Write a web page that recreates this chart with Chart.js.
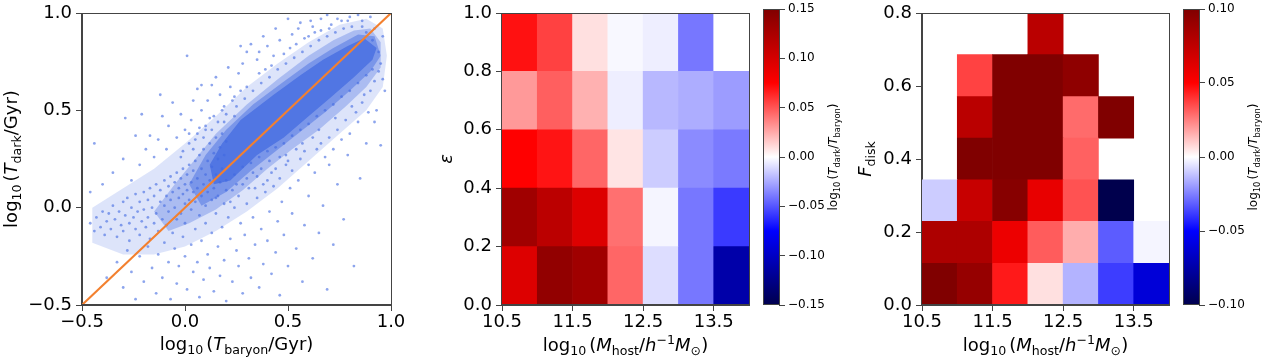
<!DOCTYPE html>
<html><head><meta charset="utf-8">
<script src="https://cdn.jsdelivr.net/npm/chart.js@4/dist/chart.umd.min.js"></script>
<style>
html,body{margin:0;padding:0;background:#fff;}
#wrap{position:relative;width:1262px;height:360px;overflow:hidden;background:#fff;}
canvas{position:absolute;top:0;}
</style></head><body>
<div id="wrap">
<canvas id="c1" width="410" height="360" style="left:0px"></canvas>
<canvas id="c2" width="340" height="360" style="left:420px"></canvas>
<canvas id="c3" width="100" height="360" style="left:760px"></canvas>
<canvas id="c4" width="340" height="360" style="left:840px"></canvas>
<canvas id="c5" width="82" height="360" style="left:1180px"></canvas>
</div>
<script>
// ---------------- Panel 1 data: log10 T_baryon vs log10 T_dark ----------------
const tRange = [-0.5, 1.0];
const tTicks = [-0.5, 0.0, 0.5, 1.0];
const oneToOne = [-0.5, 1.0];
// density outlines of the point cloud (tBaryon, tDark)
const cloudOuter = [[-0.45,-0.18],[-0.45,0.0],[-0.30,0.10],[-0.15,0.20],[0.0,0.33],[0.15,0.47],[0.30,0.62],[0.45,0.74],[0.60,0.85],[0.75,0.94],[0.88,0.97],[0.96,0.92],[0.98,0.78],[0.96,0.62],[0.88,0.50],[0.75,0.38],[0.60,0.24],[0.45,0.10],[0.30,-0.02],[0.15,-0.12],[0.0,-0.20],[-0.15,-0.24],[-0.30,-0.24],[-0.45,-0.18]];
const cloudMid = [[-0.15,-0.02],[-0.05,0.12],[0.05,0.25],[0.15,0.38],[0.30,0.53],[0.45,0.66],[0.60,0.78],[0.72,0.86],[0.82,0.91],[0.90,0.92],[0.95,0.85],[0.95,0.72],[0.88,0.62],[0.78,0.52],[0.65,0.40],[0.52,0.30],[0.40,0.20],[0.28,0.09],[0.15,-0.01],[0.02,-0.08],[-0.08,-0.12],[-0.15,-0.02]];
const cloudInner = [[0.02,0.12],[0.10,0.27],[0.20,0.40],[0.33,0.53],[0.47,0.64],[0.60,0.74],[0.72,0.82],[0.84,0.89],[0.92,0.88],[0.95,0.78],[0.90,0.70],[0.80,0.60],[0.68,0.49],[0.56,0.39],[0.44,0.29],[0.32,0.19],[0.20,0.08],[0.08,0.01],[0.02,0.12]];
const cloudCore = [[0.12,0.22],[0.18,0.33],[0.27,0.45],[0.43,0.58],[0.56,0.68],[0.67,0.76],[0.79,0.83],[0.87,0.87],[0.93,0.82],[0.91,0.76],[0.82,0.67],[0.70,0.56],[0.59,0.46],[0.48,0.36],[0.35,0.27],[0.22,0.14],[0.14,0.12],[0.12,0.22]];
// individual points (tBaryon, tDark)
const scatterPoints = [
[-0.46,-0.08],[-0.44,-0.12],[-0.43,-0.05],[-0.41,-0.10],[-0.40,-0.02],[-0.39,-0.14],[-0.38,-0.07],[-0.37,-0.03],[-0.36,-0.11],[-0.35,0.01],[-0.34,-0.06],[-0.33,-0.15],[-0.32,-0.02],[-0.31,-0.09],[-0.30,0.03],[-0.30,-0.12],[-0.29,-0.04],[-0.28,0.05],[-0.27,-0.08],[-0.27,-0.17],[-0.26,0.00],[-0.25,-0.05],[-0.24,0.07],[-0.24,-0.11],[-0.23,-0.02],[-0.22,0.03],[-0.22,-0.14],[-0.21,-0.07],[-0.20,0.08],[-0.20,-0.01],[-0.19,-0.10],[-0.18,0.04],[-0.18,-0.05],[-0.17,0.10],[-0.17,-0.16],[-0.16,0.00],[-0.15,-0.08],[-0.15,0.06],[-0.14,0.12],[-0.14,-0.03],[-0.13,-0.12],[-0.12,0.03],[-0.12,0.09],[-0.11,-0.06],[-0.10,0.14],[-0.10,0.01],[-0.09,-0.09],[-0.09,0.06],[-0.08,0.11],[-0.08,-0.02],[-0.07,0.16],[-0.07,0.04],[-0.06,-0.13],[-0.06,0.08],[-0.05,0.00],[-0.05,0.13],[-0.04,-0.06],[-0.04,0.18],[-0.03,0.05],[-0.03,0.10],[-0.02,-0.03],[-0.02,0.15],[-0.01,0.07],[-0.01,0.20],[0.00,0.02],[0.00,0.12],[0.00,-0.08],[0.01,0.17],[0.01,0.09],[0.02,0.04],[0.02,0.22],[0.03,0.13],[0.03,-0.01],[0.04,0.08],[0.04,0.19],[0.05,0.24],[0.05,0.03],[0.06,0.15],[0.06,0.10],[0.07,0.27],[0.07,-0.04],[0.08,0.06],[0.08,0.20],[0.09,0.12],[0.09,0.30],[0.10,0.01],[0.10,0.17],[0.11,0.24],[0.11,0.08],[0.12,0.33],[0.12,0.14],[0.13,0.04],[0.13,0.21],[0.14,0.28],[0.14,0.10],[0.15,0.36],[0.15,0.17],[0.16,0.06],[0.16,0.25],[0.17,0.31],[0.17,0.13],[0.18,0.38],[0.18,0.20],[0.19,0.02],[0.19,0.27],[0.20,0.34],[0.20,0.09],
[-0.44,0.33],[-0.29,0.46],[-0.24,0.37],[-0.21,0.48],[-0.17,0.37],[-0.12,0.58],[-0.11,0.47],[-0.06,0.54],[-0.02,0.48],[0.01,0.78],[0.04,0.55],[0.06,0.61],[0.08,0.63],[0.13,0.63],[0.15,0.67],[0.21,0.72],[-0.35,0.18],[-0.40,0.12],[-0.46,0.08],[-0.30,0.25],[-0.26,0.14],[-0.22,0.22],[-0.19,0.30],[-0.15,0.26],[-0.13,0.35],[-0.09,0.30],[-0.08,0.42],[-0.04,0.36],[-0.01,0.29],[0.00,0.40],[0.02,0.33],[0.03,0.45],[0.06,0.38],[0.08,0.50],[0.10,0.42],[0.11,0.55],[0.14,0.47],[0.17,0.58],[0.19,0.52],[0.22,0.62],[0.24,0.57],[0.26,0.69],[0.28,0.74],[0.30,0.80],[0.32,0.84],[0.27,0.83],[0.35,0.76],[0.38,0.88],[0.44,0.92],[0.50,0.97],[0.56,0.95],[0.61,0.96],[0.69,0.99],[0.74,0.97],[0.84,0.99],[0.90,0.98],
[-0.38,-0.36],[-0.33,-0.28],[-0.30,-0.41],[-0.28,-0.22],[-0.26,-0.33],[-0.24,-0.47],[-0.22,-0.25],[-0.20,-0.38],[-0.18,-0.20],[-0.16,-0.31],[-0.14,-0.44],[-0.13,-0.24],[-0.11,-0.36],[-0.10,-0.18],[-0.08,-0.28],[-0.07,-0.47],[-0.05,-0.21],[-0.04,-0.39],[-0.03,-0.30],[-0.01,-0.15],[0.00,-0.25],[0.01,-0.42],[0.03,-0.19],[0.04,-0.33],[0.05,-0.11],[0.06,-0.28],[0.07,-0.46],[0.08,-0.17],[0.09,-0.37],[0.10,-0.08],[0.11,-0.24],[0.12,-0.31],[0.13,-0.13],[0.14,-0.43],[0.15,-0.03],[0.16,-0.20],[0.17,-0.35],[0.18,-0.10],[0.19,-0.27],[0.20,-0.48],[0.21,-0.05],[0.22,-0.16],[0.23,-0.38],[0.24,0.00],[0.25,-0.22],[0.26,-0.30],[0.27,-0.08],[0.28,-0.44],[0.29,-0.14],[0.30,0.02],[0.31,-0.26],[0.32,-0.36],[0.33,-0.05],[0.34,-0.19],[0.35,0.05],[0.36,-0.41],[0.37,-0.11],[0.38,-0.29],[0.39,0.08],[0.40,-0.17],[0.41,-0.02],[0.42,-0.34],[0.43,0.11],[0.44,-0.23],[0.45,-0.07],[0.46,-0.45],[0.47,0.03],[0.48,-0.14],[0.50,-0.30],[0.51,0.10],[0.52,-0.03],[0.54,-0.21],[0.55,0.14],[0.57,-0.38],[0.58,-0.09],[0.60,0.06],[0.62,-0.26],[0.63,0.18],[0.65,-0.13],[0.67,0.01],[0.69,-0.42],[0.70,0.22],[0.72,-0.19],[0.74,0.12],[0.77,-0.06],[0.79,0.27],[0.82,-0.30],[0.85,0.15],[0.88,0.33],[0.92,0.44],[0.95,0.32],[0.97,0.60],[0.93,0.50],[0.89,0.49],[0.84,0.44],[0.80,0.38],[0.76,0.35],[0.72,0.30],[0.68,0.26],[0.64,0.30],[0.60,0.22],[0.56,0.25],[0.52,0.19],[0.49,0.22],[0.46,0.15],[0.42,0.18],[0.38,0.12],[0.35,0.16],[0.31,0.10],[0.28,0.12],[0.26,0.06],[0.23,0.09],
[0.05,0.35],[0.10,0.40],[0.16,0.44],[0.20,0.48],[0.25,0.52],[0.29,0.56],[0.33,0.60],[0.37,0.64],[0.41,0.67],[0.45,0.71],[0.49,0.74],[0.53,0.77],[0.57,0.80],[0.61,0.83],[0.65,0.86],[0.69,0.88],[0.73,0.90],[0.77,0.92],[0.81,0.93],[0.86,0.93],[0.30,0.62],[0.36,0.69],[0.42,0.73],[0.48,0.79],[0.54,0.84],[0.60,0.88],[0.66,0.91],[0.71,0.94],[0.23,0.55],[0.18,0.50],[0.12,0.46],[0.07,0.41],[0.02,0.38],[0.27,0.60],[0.39,0.71],[0.51,0.82],[0.63,0.90],[0.79,0.96],
[0.15,0.05],[0.20,0.14],[0.24,0.17],[0.28,0.21],[0.32,0.23],[0.36,0.26],[0.40,0.29],[0.44,0.31],[0.48,0.33],[0.52,0.37],[0.56,0.40],[0.60,0.43],[0.64,0.47],[0.68,0.50],[0.72,0.53],[0.76,0.57],[0.80,0.60],[0.84,0.64],[0.88,0.68],[0.91,0.71],[0.33,0.18],[0.41,0.24],[0.49,0.27],[0.57,0.33],[0.65,0.40],[0.73,0.46],[0.81,0.52],[0.87,0.58],[0.92,0.65],[0.95,0.74],[0.94,0.80],[0.91,0.86],[0.96,0.88],
[0.36,0.80],[0.40,0.83],[0.43,0.78],[0.46,0.86],[0.52,0.89],[0.55,0.92],[0.58,0.87],[0.62,0.93],[0.66,0.97],[0.70,0.92],[0.76,0.96],[0.80,0.98],[0.86,0.96],[0.88,0.90],[0.92,0.92],[0.94,0.70],[0.96,0.66],[0.90,0.60],[0.86,0.54],[0.83,0.49],[0.78,0.45],[0.74,0.40],[0.70,0.36],[0.66,0.33],[0.62,0.36],[0.58,0.29],[0.54,0.30],[0.50,0.24],[0.46,0.26],[0.44,0.20],[0.40,0.14],[0.37,0.20],[0.34,0.10],[0.30,0.15],[0.25,0.12],[0.22,0.03],[-0.02,0.26],[0.04,0.30],[0.09,0.36],[0.13,0.40],[0.19,0.44],[0.24,0.47]
];

// ---------------- Panel 2 data: epsilon vs host mass ----------------
const massEdges = [10.5, 11.0, 11.5, 12.0, 12.5, 13.0, 13.5, 14.0];
const massTicks = [10.5, 11.5, 12.5, 13.5];
const epsEdges = [0.0, 0.2, 0.4, 0.6, 0.8, 1.0];
const epsTicks = [0.0, 0.2, 0.4, 0.6, 0.8, 1.0];
const epsRow0 = [0.095, 0.139, 0.131, 0.045, -0.010, -0.040, -0.111];
const epsRow1 = [0.131, 0.115, 0.095, 0.042, -0.003, -0.040, -0.058];
const epsRow2 = [0.075, 0.069, 0.045, 0.008, -0.015, -0.034, -0.039];
const epsRow3 = [0.030, 0.047, 0.023, -0.005, -0.021, -0.024, -0.029];
const epsRow4 = [0.070, 0.056, 0.009, -0.002, -0.005, -0.040, 0.000];
const epsLimit = 0.15;
const epsCbarTicks = [-0.15, -0.10, -0.05, 0.00, 0.05, 0.10, 0.15];

// ---------------- Panel 3 data: F_disk vs host mass ----------------
const fdiskEdges = [0.0, 0.114, 0.229, 0.343, 0.457, 0.571, 0.686, 0.8];
const fdiskTicks = [0.0, 0.2, 0.4, 0.6, 0.8];
const fdRow0 = [0.100, 0.091, 0.045, 0.006, -0.015, -0.038, -0.061];
const fdRow1 = [0.082, 0.082, 0.057, 0.032, 0.016, -0.032, -0.002];
const fdRow2 = [-0.010, 0.072, 0.097, 0.059, 0.034, -0.105, null];
const fdRow3 = [null, 0.100, 0.100, 0.100, 0.031, null, null];
const fdRow4 = [null, 0.077, 0.100, 0.100, 0.029, 0.100, null];
const fdRow5 = [null, 0.037, 0.100, 0.100, 0.094, null, null];
const fdRow6 = [null, null, null, 0.077, null, null, null];
const fdLimit = 0.10;
const fdCbarTicks = [-0.10, -0.05, 0.00, 0.05, 0.10];

// ---------------- helpers ----------------
const FONT = "'DejaVu Sans', sans-serif";
Chart.defaults.font.family = FONT;
Chart.defaults.color = '#000';
const AX = '#444';

const seismicStops = [[0,[0,0,76.5]],[0.25,[0,0,255]],[0.5,[255,255,255]],[0.75,[255,0,0]],[1,[127.5,0,0]]];
function seismic(t){
  t = Math.max(0, Math.min(1, t));
  for (let i = 1; i < seismicStops.length; i++) {
    if (t <= seismicStops[i][0]) {
      const [t0,c0] = seismicStops[i-1], [t1,c1] = seismicStops[i];
      const f = (t - t0) / (t1 - t0);
      return 'rgb(' + c0.map((c,k)=>Math.round(c + (c1[k]-c)*f)).join(',') + ')';
    }
  }
  return 'rgb(127,0,0)';
}
function fmt(v, d){ return (v < 0 ? '\u2212' : '') + Math.abs(v).toFixed(d); }

function mkAxis(o){
  const vertical = (o.pos === 'left' || o.pos === 'right');
  const ax = {
    type:'linear', position:o.pos, min:o.min, max:o.max, offset:false, display: o.display !== false,
    afterBuildTicks: s => { s.ticks = o.ticks.map(v => ({value:v})); },
    afterFit: s => { if (vertical) s.width = o.dim; else s.height = o.dim; },
    grid:{display:true, offset:false, drawOnChartArea:false, drawTicks:true, tickLength:6, tickWidth:1, tickColor:AX, color:AX, lineWidth:1},
    border:{display:true, color:AX, width:1},
    ticks:{font:{size:o.fs, lineHeight:1, family:FONT}, color:'#000', padding:o.pad, maxRotation:0, minRotation:0, autoSkip:false,
      callback: v => fmt(v, o.dec)}
  };
  if (o.stacked !== undefined) ax.stacked = o.stacked;
  return ax;
}

const frame = { id:'frame', afterDatasetsDraw(chart){
  const a = chart.chartArea, c = chart.ctx;
  c.save(); c.strokeStyle = AX; c.lineWidth = 1;
  c.strokeRect(Math.round(a.left)-0.5, Math.round(a.top)+0.5, Math.round(a.right - a.left)+1, Math.round(a.bottom - a.top)-1);
  c.restore();
}};

function fontOf(p){ return (p.it ? 'italic ' : '') + p.s + 'px ' + FONT; }
function drawRich(ctx, parts, x, y, rot){
  ctx.save();
  ctx.translate(x, y);
  if (rot) ctx.rotate(-Math.PI/2);
  ctx.fillStyle = '#000'; ctx.textBaseline = 'alphabetic'; ctx.textAlign = 'left';
  let w = 0;
  const ws = parts.map(p => { ctx.font = fontOf(p); const m = ctx.measureText(p.t).width; w += m + (p.gap||0); return m; });
  let cx = -w/2;
  parts.forEach((p,i) => { ctx.font = fontOf(p); ctx.fillText(p.t, cx, p.dy||0); cx += ws[i] + (p.gap||0); });
  ctx.restore();
}
function makeRich(labels){ return { id:'rich', afterDraw(chart){ const a = chart.chartArea; labels.forEach(l => { const p = l.at(a); drawRich(chart.ctx, l.parts, p[0], p[1], l.rot); }); } }; }
const Rm = (t,s,g) => ({t, s, gap:g||0});
const It = (t,s,g) => ({t, s, it:true, gap:g||0});
const Sub = (t,s,g) => ({t, s:s*0.7, dy:s*0.22, gap:g||0});
const Sup = (t,s,g) => ({t, s:s*0.7, dy:-s*0.4, gap:g||0});

const labelTbaryon = [Rm('log',18), Sub('10',18,3), Rm('(',18), It('T',18), Sub('baryon',18), Rm('/Gyr)',18)];
const labelTdark = [Rm('log',18), Sub('10',18,3), Rm('(',18), It('T',18), Sub('dark',18), Rm('/Gyr)',18)];
const labelMass = [Rm('log',18), Sub('10',18,3), Rm('(',18), It('M',18), Sub('host',18), Rm('/',18), It('h',18), Sup('\u22121',18), It('M',18), Sub('\u2299',18), Rm(')',18)];
const labelEps = [It('\u03b5',18)];
const labelFdisk = [It('F',18), Sub('disk',18)];
const labelRatio = [Rm('log',12), Sub('10',12,2), Rm('(',12), It('T',12), Sub('dark',12), Rm('/',12), It('T',12), Sub('baryon',12), Rm(')',12)];

const baseOpts = { responsive:false, animation:false, devicePixelRatio:1, events:[],
  plugins:{legend:{display:false}, tooltip:{enabled:false}, title:{display:false}} };

// ---------------- Chart 1: scatter ----------------
const toXY = arr => arr.map(p => ({x:p[0], y:p[1]}));
const blobStyle = a => ({showLine:true, fill:'shape', backgroundColor:'rgba(65,105,225,' + a + ')', borderColor:'rgba(0,0,0,0)', borderWidth:0, pointRadius:0, tension:0});
new Chart(document.getElementById('c1'), {
  type:'scatter',
  data:{ datasets:[
    {data: oneToOne.map(v => ({x:v, y:v})), showLine:true, borderColor:'#f3802f', borderWidth:2, pointRadius:0, fill:false},
    {data: toXY(scatterPoints), pointRadius:1.4, pointBackgroundColor:'rgba(65,105,225,0.6)', pointBorderWidth:0, showLine:false},
    Object.assign({data: toXY(cloudCore)}, blobStyle(0.72)),
    Object.assign({data: toXY(cloudInner)}, blobStyle(0.45)),
    Object.assign({data: toXY(cloudMid)}, blobStyle(0.32)),
    Object.assign({data: toXY(cloudOuter)}, blobStyle(0.18))
  ]},
  options: Object.assign({}, baseOpts, {
    layout:{padding:{left:0, top:9, right:19, bottom:0}},
    scales:{
      x: mkAxis({pos:'bottom', min:tRange[0], max:tRange[1], ticks:tTicks, dec:1, fs:18, pad:2, dim:55}),
      y: mkAxis({pos:'left', min:tRange[0], max:tRange[1], ticks:tTicks, dec:1, fs:18, pad:4, dim:82})
    }
  }),
  plugins:[frame, makeRich([
    {parts:labelTbaryon, at:a => [(a.left+a.right)/2, a.bottom+45]},
    {parts:labelTdark, rot:true, at:a => [a.left-65, (a.top+a.bottom)/2]}
  ])]
});

// ---------------- heatmap helper ----------------
function heatDatasets(rows, xEdges, yEdges, lim){
  return rows.map((row, r) => ({
    data: row.map((v,i) => v === null ? null : {x:(xEdges[i]+xEdges[i+1])/2, y:[yEdges[r], yEdges[r+1]], v:v}).filter(d => d),
    backgroundColor: ctx => ctx.raw ? seismic((ctx.raw.v + lim)/(2*lim)) : 'rgba(0,0,0,0)',
    borderWidth:0, stack:'cells', categoryPercentage:1, barPercentage:1
  }));
}
function heatChart(id, rows, yEdges, yTicks, lim, yLabel, yOff){
  new Chart(document.getElementById(id), {
    type:'bar',
    data:{ datasets: heatDatasets(rows, massEdges, yEdges, lim) },
    options: Object.assign({}, baseOpts, {
      layout:{padding:{left:0, top:9, right:11, bottom:0}},
      scales:{
        x: mkAxis({pos:'bottom', min:massEdges[0], max:massEdges[massEdges.length-1], ticks:massTicks, dec:1, fs:18, pad:2, dim:55}),
        y: mkAxis({pos:'left', min:yEdges[0], max:yEdges[yEdges.length-1], ticks:yTicks, dec:1, fs:18, pad:4, dim:82, stacked:false})
      }
    }),
    plugins:[frame, makeRich([
      {parts:labelMass, at:a => [(a.left+a.right)/2, a.bottom+46]},
      {parts:yLabel, rot:true, at:a => [a.left-yOff, (a.top+a.bottom)/2]}
    ])]
  });
}
function cbarChart(id, lim, ticks, width){
  const cbar = { id:'cbar', beforeDatasetsDraw(chart){
    const a = chart.chartArea, y = chart.scales.y, c = chart.ctx;
    const g = c.createLinearGradient(0, y.getPixelForValue(-lim), 0, y.getPixelForValue(lim));
    seismicStops.forEach(([t,col]) => g.addColorStop(t, 'rgb(' + col.map(Math.round).join(',') + ')'));
    c.save(); c.fillStyle = g; c.fillRect(a.left, a.top, a.right-a.left, a.bottom-a.top); c.restore();
  }};
  new Chart(document.getElementById(id), {
    type:'scatter',
    data:{ datasets:[] },
    options: Object.assign({}, baseOpts, {
      layout:{padding:{left:4, top:9, right:0, bottom:55}},
      scales:{
        x: {type:'linear', display:false, min:0, max:1},
        y: mkAxis({pos:'right', min:-lim, max:lim, ticks:ticks, dec:2, fs:12, pad:3, dim:width-19})
      }
    }),
    plugins:[cbar, frame, makeRich([
      {parts:labelRatio, rot:true, at:a => [a.right+58, (a.top+a.bottom)/2]}
    ])]
  });
}

heatChart('c2', [epsRow0, epsRow1, epsRow2, epsRow3, epsRow4], epsEdges, epsTicks, epsLimit, labelEps, 50);
cbarChart('c3', epsLimit, epsCbarTicks, 100);
heatChart('c4', [fdRow0, fdRow1, fdRow2, fdRow3, fdRow4, fdRow5, fdRow6], fdiskEdges, fdiskTicks, fdLimit, labelFdisk, 51);
cbarChart('c5', fdLimit, fdCbarTicks, 82);
</script>
</body></html>
